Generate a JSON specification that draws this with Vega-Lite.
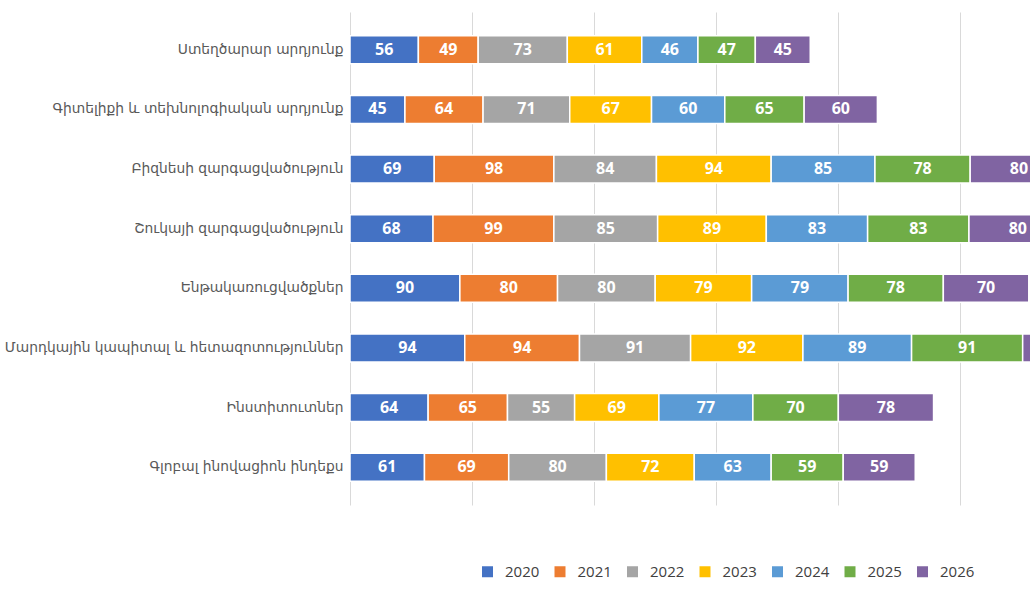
{
  "$schema": "https://vega.github.io/schema/vega-lite/v6.json",
  "autosize": "none",
  "padding": {"left": 350, "top": 12, "right": 0, "bottom": 95},
  "width": 680,
  "height": 493,
  "background": "white",
  "data": {
    "values": [
      {"cat": "Ստեղծարար արդյունք", "year": "2020", "value": 56},
      {"cat": "Ստեղծարար արդյունք", "year": "2021", "value": 49},
      {"cat": "Ստեղծարար արդյունք", "year": "2022", "value": 73},
      {"cat": "Ստեղծարար արդյունք", "year": "2023", "value": 61},
      {"cat": "Ստեղծարար արդյունք", "year": "2024", "value": 46},
      {"cat": "Ստեղծարար արդյունք", "year": "2025", "value": 47},
      {"cat": "Ստեղծարար արդյունք", "year": "2026", "value": 45},
      {"cat": "Գիտելիքի և տեխնոլոգիական արդյունք", "year": "2020", "value": 45},
      {"cat": "Գիտելիքի և տեխնոլոգիական արդյունք", "year": "2021", "value": 64},
      {"cat": "Գիտելիքի և տեխնոլոգիական արդյունք", "year": "2022", "value": 71},
      {"cat": "Գիտելիքի և տեխնոլոգիական արդյունք", "year": "2023", "value": 67},
      {"cat": "Գիտելիքի և տեխնոլոգիական արդյունք", "year": "2024", "value": 60},
      {"cat": "Գիտելիքի և տեխնոլոգիական արդյունք", "year": "2025", "value": 65},
      {"cat": "Գիտելիքի և տեխնոլոգիական արդյունք", "year": "2026", "value": 60},
      {"cat": "Բիզնեսի զարգացվածություն", "year": "2020", "value": 69},
      {"cat": "Բիզնեսի զարգացվածություն", "year": "2021", "value": 98},
      {"cat": "Բիզնեսի զարգացվածություն", "year": "2022", "value": 84},
      {"cat": "Բիզնեսի զարգացվածություն", "year": "2023", "value": 94},
      {"cat": "Բիզնեսի զարգացվածություն", "year": "2024", "value": 85},
      {"cat": "Բիզնեսի զարգացվածություն", "year": "2025", "value": 78},
      {"cat": "Բիզնեսի զարգացվածություն", "year": "2026", "value": 80},
      {"cat": "Շուկայի զարգացվածություն", "year": "2020", "value": 68},
      {"cat": "Շուկայի զարգացվածություն", "year": "2021", "value": 99},
      {"cat": "Շուկայի զարգացվածություն", "year": "2022", "value": 85},
      {"cat": "Շուկայի զարգացվածություն", "year": "2023", "value": 89},
      {"cat": "Շուկայի զարգացվածություն", "year": "2024", "value": 83},
      {"cat": "Շուկայի զարգացվածություն", "year": "2025", "value": 83},
      {"cat": "Շուկայի զարգացվածություն", "year": "2026", "value": 80},
      {"cat": "Ենթակառուցվածքներ", "year": "2020", "value": 90},
      {"cat": "Ենթակառուցվածքներ", "year": "2021", "value": 80},
      {"cat": "Ենթակառուցվածքներ", "year": "2022", "value": 80},
      {"cat": "Ենթակառուցվածքներ", "year": "2023", "value": 79},
      {"cat": "Ենթակառուցվածքներ", "year": "2024", "value": 79},
      {"cat": "Ենթակառուցվածքներ", "year": "2025", "value": 78},
      {"cat": "Ենթակառուցվածքներ", "year": "2026", "value": 70},
      {"cat": "Մարդկային կապիտալ և հետազոտություններ", "year": "2020", "value": 94},
      {"cat": "Մարդկային կապիտալ և հետազոտություններ", "year": "2021", "value": 94},
      {"cat": "Մարդկային կապիտալ և հետազոտություններ", "year": "2022", "value": 91},
      {"cat": "Մարդկային կապիտալ և հետազոտություններ", "year": "2023", "value": 92},
      {"cat": "Մարդկային կապիտալ և հետազոտություններ", "year": "2024", "value": 89},
      {"cat": "Մարդկային կապիտալ և հետազոտություններ", "year": "2025", "value": 91},
      {"cat": "Մարդկային կապիտալ և հետազոտություններ", "year": "2026", "value": 83},
      {"cat": "Ինստիտուտներ", "year": "2020", "value": 64},
      {"cat": "Ինստիտուտներ", "year": "2021", "value": 65},
      {"cat": "Ինստիտուտներ", "year": "2022", "value": 55},
      {"cat": "Ինստիտուտներ", "year": "2023", "value": 69},
      {"cat": "Ինստիտուտներ", "year": "2024", "value": 77},
      {"cat": "Ինստիտուտներ", "year": "2025", "value": 70},
      {"cat": "Ինստիտուտներ", "year": "2026", "value": 78},
      {"cat": "Գլոբալ ինովացիոն ինդեքս", "year": "2020", "value": 61},
      {"cat": "Գլոբալ ինովացիոն ինդեքս", "year": "2021", "value": 69},
      {"cat": "Գլոբալ ինովացիոն ինդեքս", "year": "2022", "value": 80},
      {"cat": "Գլոբալ ինովացիոն ինդեքս", "year": "2023", "value": 72},
      {"cat": "Գլոբալ ինովացիոն ինդեքս", "year": "2024", "value": 63},
      {"cat": "Գլոբալ ինովացիոն ինդեքս", "year": "2025", "value": 59},
      {"cat": "Գլոբալ ինովացիոն ինդեքս", "year": "2026", "value": 59}
    ]
  },
  "encoding": {
    "y": {
      "field": "cat",
      "type": "nominal",
      "sort": null,
      "scale": {"paddingInner": 0.53, "paddingOuter": 0.4},
      "axis": {
        "title": null,
        "ticks": false,
        "domain": false,
        "labelPadding": 7,
        "labelFont": "DejaVu Sans",
        "labelFontSize": 13.8,
        "labelColor": "#595959",
        "labelLimit": 400
      }
    }
  },
  "layer": [
    {
      "mark": {"type": "bar", "stroke": "white", "strokeWidth": 1.5, "clip": true},
      "encoding": {
        "x": {
          "field": "value",
          "type": "quantitative",
          "stack": "zero",
          "scale": {"domain": [0, 557], "nice": false},
          "axis": {
            "title": null,
            "labels": false,
            "ticks": false,
            "domain": false,
            "values": [0, 100, 200, 300, 400, 500],
            "grid": true,
            "gridColor": "#d9d9d9",
            "gridWidth": 1
          }
        },
        "color": {
          "field": "year",
          "type": "nominal",
          "scale": {
            "domain": ["2020", "2021", "2022", "2023", "2024", "2025", "2026"],
            "range": ["#4472C4", "#ED7D31", "#A5A5A5", "#FFC000", "#5B9BD5", "#70AD47", "#8064A2"]
          },
          "legend": {
            "title": null,
            "orient": "none",
            "direction": "horizontal",
            "legendX": 130,
            "legendY": 552,
            "symbolType": "square",
            "symbolSize": 121,
            "symbolStrokeWidth": 0,
            "labelFont": "Open Sans",
            "labelFontSize": 15,
            "labelColor": "#404040",
            "labelOffset": 10,
            "columnPadding": 12.5,
            "padding": 0
          }
        },
        "order": {"field": "year", "type": "ordinal"}
      }
    },
    {
      "mark": {
        "type": "text",
        "color": "white",
        "font": "Open Sans",
        "fontWeight": "bold",
        "fontSize": 16,
        "clip": true
      },
      "encoding": {
        "x": {
          "field": "value",
          "type": "quantitative",
          "stack": "zero",
          "bandPosition": 0.5
        },
        "detail": {"field": "year"},
        "order": {"field": "year", "type": "ordinal"},
        "text": {"field": "value", "type": "quantitative"}
      }
    }
  ],
  "config": {
    "view": {"stroke": null}
  }
}
